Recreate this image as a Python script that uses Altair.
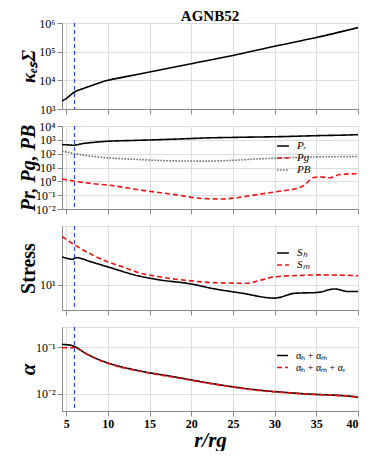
import altair as alt
import pandas as pd

FONT = "Liberation Serif"

# ---- data ----
isco = [6]

r_kap = [4.5, 5, 6, 7, 8, 10, 12, 15, 20, 25, 30, 35, 40]
kap = [1900, 2300, 3900, 5100, 6500, 10000, 13200, 19500, 38000, 74000, 155000, 310000, 690000]

r_pr = [4.5, 5, 5.9, 7, 8, 10, 13, 16, 19, 22, 26, 30.6, 35, 39.8, 40]
p_r = [450, 440, 410, 540, 630, 790, 900, 1020, 1180, 1380, 1530, 1700, 2000, 2350, 2380]

r_pg = [4.5, 5, 5.9, 8, 10, 14, 18, 21.4, 23.8, 25.4, 27, 29.4, 31, 32.6, 33.6, 34.6, 35.4, 36.6, 37.8, 39, 40]
p_g = [1.45, 1.3, 1.05, 0.70, 0.54, 0.23, 0.11, 0.057, 0.053, 0.065, 0.09, 0.15, 0.21, 0.30, 0.54, 1.8, 2.1, 1.8, 3.1, 3.4, 3.7]

r_pb = [4.5, 5, 6, 8, 10, 14, 18, 22, 25, 27.4, 30, 33.4, 37, 40]
p_b = [155, 135, 100, 66, 50, 37, 30, 29, 33, 40, 47, 56, 60, 62]

r_sh = [4.5, 5.8, 6.2, 8, 10, 13.6, 16, 20, 22.6, 26, 30, 32.4, 35.2, 37.2, 38.8, 40]
s_h = [21.5, 20.1, 21.0, 18.7, 16.3, 12.8, 11.5, 10.2, 9.0, 7.95, 6.93, 7.9, 8.1, 8.9, 8.3, 8.3]

r_sm = [4.5, 6.2, 8, 10, 12, 13.6, 16, 20, 22.6, 26.8, 28, 30, 34, 35.2, 40]
s_m = [37.5, 29.0, 23.0, 18.7, 16.0, 14.0, 12.5, 11.1, 10.6, 10.4, 11.1, 12.4, 13.0, 13.1, 12.8]

r_a1 = [4.5, 5, 5.9, 7, 8, 10, 14, 18, 22, 27.4, 33.4, 39.8, 40]
a_hm = [0.114, 0.113, 0.105, 0.08, 0.064, 0.046, 0.0306, 0.0231, 0.0172, 0.0124, 0.0101, 0.0086, 0.0084]

r_a2 = [4.5, 5, 5.9, 6.5, 7, 8, 10, 14, 18, 22, 27.4, 33.4, 39.8, 40]
a_hmr = [0.097, 0.097, 0.097, 0.094, 0.079, 0.063, 0.045, 0.030, 0.0226, 0.0169, 0.0122, 0.0100, 0.0086, 0.0084]

x_ticks = [5, 10, 15, 20, 25, 30, 35, 40]

# ---- helpers ----
SUP = {"-": "⁻", "0": "⁰", "1": "¹", "2": "²", "3": "³", "4": "⁴", "5": "⁵", "6": "⁶", "7": "⁷", "8": "⁸", "9": "⁹"}


def sup(n):
    return "".join(SUP[c] for c in str(n))


def pow_expr(exps):
    expr = "''"
    for e in reversed(exps):
        expr = f"round(log(datum.value)/LN10) == {e} ? '10{sup(e)}' : ({expr})"
    return expr


def long_df(pairs):
    rows = []
    for name, rs, vs in pairs:
        for r, v in zip(rs, vs):
            rows.append({"r": r, "v": v, "s": name})
    return pd.DataFrame(rows)


W = 296
RED = "#ee1111"
BLUE = "#3344ff"


def xenc(show):
    return alt.X(
        "r:Q",
        scale=alt.Scale(domain=[4.5, 40], nice=False, zero=False),
        axis=alt.Axis(
            values=x_ticks,
            labels=show,
            title="r/rg" if show else None,
            titleFont=FONT,
            labelFont=FONT,
            titleFontSize=21,
            titleFontStyle="italic",
            titleFontWeight="bold",
            labelFontWeight="bold",
            labelFontSize=12,
            titlePadding=0,
        ),
    )


def yaxis(exps, title, height, size=19, style="normal"):
    return alt.Axis(
        values=[10 ** e for e in exps],
        labelExpr=pow_expr(exps),
        labelFont=FONT,
        labelFontSize=12,
        title=title,
        titleFont=FONT,
        titleFontSize=size,
        titleFontWeight="bold",
        titleFontStyle=style,
        titleX=-24,
        titleY=height / 2,
        titleAlign="center",
        titleAngle=-90,
        titleBaseline="bottom",
    )


def legend(y, size, fsize, style):
    return alt.Legend(
        orient="none",
        legendX=214,
        legendY=y,
        title=None,
        labelFont=FONT,
        labelFontStyle=style,
        labelFontSize=fsize,
        symbolType="stroke",
        symbolSize=size,
        symbolStrokeWidth=1.6,
        rowPadding=0,
        labelOffset=7,
    )


def rule():
    return alt.Chart(pd.DataFrame({"r": isco})).mark_rule(color=BLUE, strokeDash=[4, 3], strokeWidth=1.2).encode(
        x=alt.X("r:Q")
    )


def multi_panel(df, ydom, exps, title, names, colors, dashes, height, leg_y, sym, fsize, lstyle,
                show_x=False, tsize=20, tstyle="normal"):
    leg = legend(leg_y, sym, fsize, lstyle)
    line = alt.Chart(df).mark_line(strokeWidth=1.6, interpolate="monotone", clip=True).encode(
        x=xenc(show_x),
        y=alt.Y("v:Q", scale=alt.Scale(type="log", domain=ydom, nice=False),
                axis=yaxis(exps, title, height, tsize, tstyle)),
        color=alt.Color("s:N", scale=alt.Scale(domain=names, range=colors), legend=leg),
        strokeDash=alt.StrokeDash("s:N", scale=alt.Scale(domain=names, range=dashes), legend=leg),
    )
    return alt.layer(line, rule()).properties(width=W, height=height)


# panel 1
line1 = alt.Chart(long_df([("k", r_kap, kap)])).mark_line(
    strokeWidth=1.6, interpolate="monotone", clip=True, color="black"
).encode(
    x=xenc(False),
    y=alt.Y("v:Q", scale=alt.Scale(type="log", domain=[1e3, 1e6], nice=False),
            axis=yaxis([3, 4, 5, 6], "κₑₛΣ", 86, 19, "italic")),
)
p1 = alt.layer(line1, rule()).properties(width=W, height=86)

p2 = multi_panel(
    long_df([("Pᵣ", r_pr, p_r), ("Pg", r_pg, p_g), ("PB", r_pb, p_b)]),
    [1e-2, 1e4], [-2, -1, 0, 1, 2, 3, 4], "Pr, Pg, PB",
    ["Pᵣ", "Pg", "PB"], ["black", RED, "#666666"], [[1, 0], [5, 3], [1.5, 1.5]],
    83, 13, 140, 11, "italic", tstyle="italic",
)

p3 = multi_panel(
    long_df([("Sₕ", r_sh, s_h), ("Sₘ", r_sm, s_m)]),
    [5, 50], [1], "Stress",
    ["Sₕ", "Sₘ"], ["black", RED], [[1, 0], [5, 3]],
    84, 20, 140, 11, "italic",
)

a_names = ["αₕ + αₘ", "αₕ + αₘ + αᵣ"]
p4 = multi_panel(
    long_df([(a_names[0], r_a1, a_hm), (a_names[1], r_a2, a_hmr)]),
    [0.0043, 0.27], [-2, -1], "α",
    a_names, ["black", RED], [[1, 0], [5, 3]],
    84, 22, 120, 10, "normal", show_x=True, tsize=21, tstyle="italic",
)

chart = (
    alt.vconcat(p1, p2, p3, p4, spacing=17, bounds="flush")
    .resolve_scale(color="independent", strokeDash="independent", y="independent")
    .properties(
        title=alt.Title("AGNB52", font=FONT, fontSize=15, fontWeight="bold", anchor="middle",
                        offset=-7, frame="group"),
        padding={"left": 8, "top": 0, "right": 5, "bottom": 0},
    )
    .configure_axis(
        labelFont=FONT, titleFont=FONT, domain=False, grid=False,
        tickColor="#444", tickSize=4, labelColor="black", titleColor="black", labelPadding=2,
    )
    .configure_legend(labelFont=FONT)
    .configure_view(stroke="#444", strokeWidth=1)
    .configure(background="white", font=FONT)
)

chart.save("out.html", embed_options={"renderer": "svg", "actions": False})
